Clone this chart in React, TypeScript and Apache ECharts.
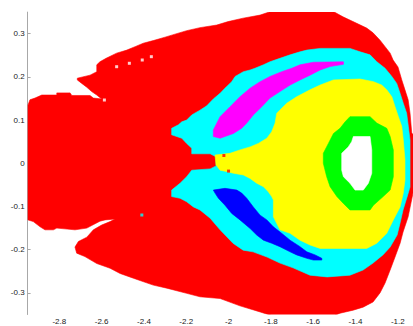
import React, { useEffect, useRef } from "react";
import * as echarts from "echarts";

const xTicks = [-2.8, -2.6, -2.4, -2.2, -2, -1.8, -1.6, -1.4, -1.2];
const yTicks = [-0.3, -0.2, -0.1, 0, 0.1, 0.2, 0.3];

const redRegion: number[][] = [
  [-2.948, 0.135], [-2.939, 0.147], [-2.915, 0.151], [-2.883, 0.158], [-2.812, 0.158], [-2.812, 0.163],
  [-2.749, 0.163], [-2.741, 0.157], [-2.655, 0.157], [-2.639, 0.151], [-2.600, 0.149], [-2.623, 0.158],
  [-2.647, 0.166], [-2.670, 0.176], [-2.694, 0.185], [-2.715, 0.193], [-2.715, 0.197], [-2.655, 0.204],
  [-2.623, 0.212], [-2.623, 0.228], [-2.608, 0.235], [-2.579, 0.243], [-2.529, 0.255], [-2.481, 0.262],
  [-2.442, 0.270], [-2.403, 0.278], [-2.356, 0.284], [-2.300, 0.292], [-2.253, 0.299], [-2.198, 0.307],
  [-2.135, 0.314], [-2.056, 0.320], [-2.002, 0.328], [-1.931, 0.336], [-1.851, 0.343], [-1.749, 0.36],
  [-1.536, 0.36], [-1.459, 0.339], [-1.394, 0.324], [-1.347, 0.313], [-1.317, 0.302], [-1.284, 0.285],
  [-1.260, 0.270], [-1.236, 0.255], [-1.222, 0.239], [-1.199, 0.223], [-1.181, 0.193], [-1.166, 0.170],
  [-1.151, 0.147], [-1.142, 0.116], [-1.134, 0.070], [-1.10, 0.054], [-1.10, -0.062], [-1.128, -0.069],
  [-1.151, -0.124], [-1.175, -0.159], [-1.189, -0.185], [-1.213, -0.217], [-1.236, -0.247], [-1.260, -0.277],
  [-1.284, -0.300], [-1.317, -0.321], [-1.364, -0.333], [-1.411, -0.340], [-1.473, -0.347], [-1.534, -0.36],
  [-1.749, -0.36], [-1.851, -0.344], [-1.946, -0.330], [-2.040, -0.313], [-2.135, -0.309], [-2.198, -0.301],
  [-2.292, -0.289], [-2.356, -0.282], [-2.450, -0.266], [-2.513, -0.255], [-2.560, -0.243], [-2.623, -0.232],
  [-2.679, -0.216], [-2.718, -0.208], [-2.726, -0.194], [-2.710, -0.181], [-2.670, -0.171], [-2.639, -0.154],
  [-2.600, -0.143], [-2.560, -0.135], [-2.537, -0.129], [-2.584, -0.131], [-2.608, -0.134], [-2.670, -0.150],
  [-2.726, -0.154], [-2.812, -0.150], [-2.828, -0.154], [-2.868, -0.154], [-2.891, -0.147], [-2.923, -0.135],
  [-2.948, -0.131],
];

const cyanRegion: number[][] = [
  [-2.269, 0.081], [-2.237, 0.089], [-2.221, 0.096], [-2.198, 0.100], [-2.174, 0.112], [-2.135, 0.123],
  [-2.103, 0.133], [-2.072, 0.149], [-2.040, 0.162], [-2.017, 0.174], [-1.985, 0.189], [-1.969, 0.201],
  [-1.930, 0.212], [-1.898, 0.216], [-1.875, 0.220], [-1.835, 0.228], [-1.804, 0.235], [-1.757, 0.243],
  [-1.709, 0.251], [-1.662, 0.258], [-1.630, 0.262], [-1.567, 0.266], [-1.426, 0.266], [-1.378, 0.258],
  [-1.331, 0.251], [-1.299, 0.235], [-1.260, 0.220], [-1.228, 0.201], [-1.205, 0.185], [-1.189, 0.162],
  [-1.174, 0.139], [-1.158, 0.116], [-1.150, 0.085], [-1.142, 0.054], [-1.142, -0.055], [-1.156, -0.078],
  [-1.175, -0.108], [-1.189, -0.138], [-1.203, -0.166], [-1.236, -0.194], [-1.270, -0.212], [-1.317, -0.231],
  [-1.364, -0.247], [-1.426, -0.259], [-1.534, -0.263], [-1.615, -0.259], [-1.695, -0.242], [-1.757, -0.231],
  [-1.818, -0.217], [-1.884, -0.205], [-1.931, -0.201], [-1.979, -0.185], [-2.040, -0.154], [-2.087, -0.127],
  [-2.135, -0.108], [-2.166, -0.101], [-2.198, -0.089], [-2.229, -0.081], [-2.269, -0.077], [-2.269, -0.062],
  [-2.229, -0.046], [-2.198, -0.031], [-2.174, -0.016], [-2.087, -0.013], [-2.059, -0.006], [-2.059, 0.015],
  [-2.087, 0.022], [-2.174, 0.022], [-2.174, 0.035], [-2.198, 0.046], [-2.221, 0.058], [-2.269, 0.066],
];

const magentaRegion: number[][] = [
  [-2.072, 0.077], [-2.040, 0.108], [-1.993, 0.131], [-1.946, 0.154], [-1.898, 0.174], [-1.851, 0.189],
  [-1.804, 0.201], [-1.749, 0.212], [-1.701, 0.220], [-1.662, 0.228], [-1.599, 0.234], [-1.457, 0.235],
  [-1.457, 0.229], [-1.520, 0.224], [-1.567, 0.216], [-1.615, 0.204], [-1.662, 0.193], [-1.709, 0.181],
  [-1.757, 0.166], [-1.804, 0.151], [-1.843, 0.131], [-1.883, 0.112], [-1.914, 0.093], [-1.938, 0.081],
  [-1.977, 0.069], [-2.040, 0.058], [-2.072, 0.062],
];

const blueRegion: number[][] = [
  [-2.072, -0.062], [-2.017, -0.058], [-1.961, -0.062], [-1.938, -0.069], [-1.914, -0.081], [-1.883, -0.101],
  [-1.851, -0.120], [-1.819, -0.131], [-1.788, -0.147], [-1.749, -0.162], [-1.709, -0.178], [-1.662, -0.193],
  [-1.630, -0.205], [-1.591, -0.212], [-1.559, -0.220], [-1.559, -0.224], [-1.599, -0.224], [-1.630, -0.220],
  [-1.678, -0.212], [-1.709, -0.205], [-1.757, -0.193], [-1.796, -0.185], [-1.835, -0.178], [-1.867, -0.166],
  [-1.898, -0.151], [-1.946, -0.131], [-1.985, -0.116], [-2.017, -0.097], [-2.048, -0.081], [-2.064, -0.069],
];

const yellowRegion: number[][] = [
  [-2.064, 0.019], [-1.993, 0.023], [-1.946, 0.031], [-1.898, 0.038], [-1.859, 0.046], [-1.819, 0.058],
  [-1.796, 0.073], [-1.780, 0.093], [-1.772, 0.116], [-1.725, 0.139], [-1.678, 0.154], [-1.615, 0.170],
  [-1.567, 0.181], [-1.504, 0.193], [-1.378, 0.195], [-1.315, 0.189], [-1.276, 0.181], [-1.252, 0.170],
  [-1.228, 0.154], [-1.213, 0.131], [-1.197, 0.108], [-1.181, 0.085], [-1.174, 0.054], [-1.166, 0.008],
  [-1.166, -0.039], [-1.174, -0.069], [-1.189, -0.101], [-1.221, -0.131], [-1.252, -0.162], [-1.299, -0.185],
  [-1.347, -0.197], [-1.567, -0.197], [-1.615, -0.189], [-1.662, -0.178], [-1.709, -0.162], [-1.757, -0.154],
  [-1.788, -0.124], [-1.788, -0.085], [-1.796, -0.077], [-1.812, -0.066], [-1.835, -0.054], [-1.867, -0.046],
  [-1.898, -0.035], [-1.930, -0.027], [-1.977, -0.023], [-2.009, -0.019], [-2.040, -0.016], [-2.059, -0.004],
];

const greenRegion: number[][] = [
  [-1.426, 0.108], [-1.331, 0.108], [-1.299, 0.093], [-1.252, 0.081], [-1.236, 0.062], [-1.221, 0.031],
  [-1.221, -0.031], [-1.236, -0.062], [-1.269, -0.077], [-1.315, -0.097], [-1.331, -0.108], [-1.426, -0.108],
  [-1.457, -0.093], [-1.488, -0.077], [-1.520, -0.054], [-1.536, -0.031], [-1.552, 0.000], [-1.552, 0.023],
  [-1.528, 0.046], [-1.504, 0.069], [-1.473, 0.081], [-1.449, 0.096],
];

const whiteRegion: number[][] = [
  [-1.410, 0.062], [-1.331, 0.062], [-1.323, 0.031], [-1.323, -0.023], [-1.339, -0.046], [-1.363, -0.062],
  [-1.402, -0.062], [-1.426, -0.046], [-1.457, -0.031], [-1.465, -0.016], [-1.465, 0.023], [-1.434, 0.038],
  [-1.418, 0.050],
];

const whiteDots: number[][] = [
  [-2.587, 0.1465], [-2.529, 0.2236], [-2.469, 0.2315], [-2.408, 0.2391], [-2.365, 0.2468],
];
const cyanDots: number[][] = [[-2.410, -0.1197]];
const redDots: number[][] = [[-2.022, 0.018], [-2.000, -0.018]];

const regions = [
  { name: "red", color: "#ff0000", pts: redRegion },
  { name: "cyan", color: "#00ffff", pts: cyanRegion },
  { name: "magenta", color: "#ff00ff", pts: magentaRegion },
  { name: "blue", color: "#0000ff", pts: blueRegion },
  { name: "yellow", color: "#ffff00", pts: yellowRegion },
  { name: "green", color: "#00ff00", pts: greenRegion },
  { name: "white", color: "#ffffff", pts: whiteRegion },
];

const dots = [
  { name: "whiteDots", color: "#ffffff", pts: whiteDots },
  { name: "cyanDots", color: "#00ffff", pts: cyanDots },
  { name: "redDots", color: "#ff0000", pts: redDots },
];

export default function App() {
  const ref = useRef<HTMLDivElement>(null);
  useEffect(() => {
    if (!ref.current) return;
    const chart = echarts.init(ref.current, undefined, { renderer: "svg" });
    const axisCommon = {
      type: "value" as const,
      axisLine: { show: true, lineStyle: { color: "#a8a8a8", width: 1 } },
      splitLine: { show: false },
      axisTick: { show: true, inside: true, length: 3, lineStyle: { color: "#a8a8a8" } },
    };
    const series: any[] = regions.map((r) => ({
      type: "custom",
      name: r.name,
      silent: true,
      clip: true,
      data: r.pts,
      encode: { x: 0, y: 1 },
      renderItem: (params: any, api: any) => {
        if (params.dataIndex !== 0) return { type: "group", children: [] };
        const points = r.pts.map((p) => api.coord(p));
        return {
          type: "polygon",
          shape: { points },
          style: { fill: r.color, stroke: r.color, lineWidth: 0.6 },
        };
      },
    }));
    dots.forEach((d) => {
      series.push({
        type: "scatter",
        name: d.name,
        silent: true,
        symbol: "rect",
        symbolSize: [3, 3],
        itemStyle: { color: d.color },
        data: d.pts,
      });
    });
    chart.setOption({
      animation: false,
      grid: { left: 27.6, right: 0, top: 12.1, bottom: 11.5 },
      xAxis: {
        ...axisCommon,
        min: -2.95,
        max: -1.128,
        axisTick: { ...axisCommon.axisTick, customValues: xTicks },
        axisLabel: {
          customValues: xTicks,
          margin: 3,
          fontSize: 8,
          color: "#222",
          fontFamily: "Liberation Sans, Arial, sans-serif",
          formatter: (v: number) => String(Math.round(v * 10) / 10),
        },
      },
      yAxis: {
        ...axisCommon,
        min: -0.35,
        max: 0.35,
        axisTick: { ...axisCommon.axisTick, customValues: yTicks },
        axisLabel: {
          customValues: yTicks,
          margin: 3,
          fontSize: 8,
          color: "#222",
          fontFamily: "Liberation Sans, Arial, sans-serif",
          formatter: (v: number) => String(Math.round(v * 10) / 10),
        },
      },
      series,
    });
    return () => chart.dispose();
  }, []);
  return (
    <div
      ref={ref}
      style={{ position: "absolute", left: 0, top: 0, width: 413, height: 326, background: "#fff" }}
    />
  );
}
